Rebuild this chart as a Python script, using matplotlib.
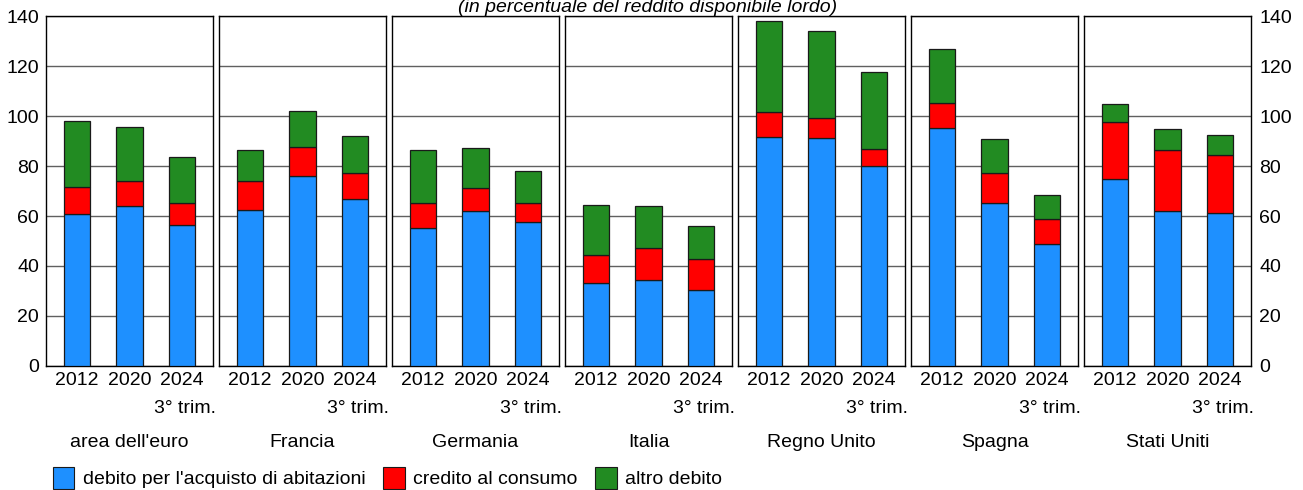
import matplotlib
matplotlib.use('Agg')
import matplotlib.pyplot as plt
from matplotlib.patches import Patch
import matplotlib.transforms as mtransforms

plt.rcParams['font.family'] = ['Liberation Sans', 'DejaVu Sans']

paesi = ["area dell'euro", 'Francia', 'Germania', 'Italia', 'Regno Unito', 'Spagna', 'Stati Uniti']
anni = ['2012', '2020', '2024']
abitazioni = [
    [60.9, 63.9, 56.4],
    [62.5, 76.1, 66.8],
    [55.2, 62.0, 57.5],
    [33.3, 34.3, 30.4],
    [91.6, 91.3, 79.9],
    [95.1, 65.2, 48.7],
    [74.7, 62.1, 61.1],
]
consumo = [
    [10.6, 10.0, 8.7],
    [11.4, 11.5, 10.3],
    [10.0, 9.1, 7.6],
    [11.0, 12.8, 12.5],
    [9.9, 7.8, 6.8],
    [10.1, 11.9, 10.0],
    [22.9, 24.2, 23.3],
]
altro = [
    [26.5, 21.8, 18.5],
    [12.4, 14.5, 15.0],
    [21.1, 16.0, 12.8],
    [20.0, 16.9, 13.0],
    [36.4, 35.0, 30.8],
    [21.5, 13.7, 9.8],
    [7.1, 8.6, 8.1],
]
legenda = ["debito per l'acquisto di abitazioni", 'credito al consumo', 'altro debito']
colori = ['#1E90FF', '#FF0000', '#228B22']

W, H = 1303, 490
fig = plt.figure(figsize=(W / 100, H / 100), dpi=100)

x0, pw, gap = 46, 167, 6
ytop, ybot = 16, 366
fs = 14

for i, paese in enumerate(paesi):
    left = x0 + i * (pw + gap)
    ax = fig.add_axes([left / W, 1 - ybot / H, pw / W, (ybot - ytop) / H])
    xs = range(len(anni))
    b = abitazioni[i]
    c = consumo[i]
    a = altro[i]
    bc = [b[k] + c[k] for k in xs]
    ax.bar(xs, b, width=0.5, color=colori[0], edgecolor='#1a1a1a', linewidth=0.9, zorder=3)
    ax.bar(xs, c, width=0.5, bottom=b, color=colori[1], edgecolor='#1a1a1a', linewidth=0.9, zorder=3)
    ax.bar(xs, a, width=0.5, bottom=bc, color=colori[2], edgecolor='#1a1a1a', linewidth=0.9, zorder=3)
    ax.set_xlim(-0.59, 2.59)
    ax.set_ylim(0, 140)
    ax.set_yticks(range(0, 141, 20))
    ax.yaxis.grid(True, color='#606060', linewidth=1.0, zorder=0)
    ax.set_xticks(list(xs))
    ax.set_xticklabels(anni, fontsize=fs)
    ax.tick_params(axis='both', length=0, pad=4, labelsize=fs)
    for s in ax.spines.values():
        s.set_color('black')
        s.set_linewidth(1.0)
    if i == 0:
        ax.tick_params(axis='y', labelleft=True, labelright=False, pad=5)
    elif i == len(paesi) - 1:
        ax.tick_params(axis='y', labelleft=False, labelright=True, pad=6)
    else:
        ax.tick_params(axis='y', labelleft=False)
    trans = mtransforms.blended_transform_factory(ax.transData, fig.transFigure)
    ax.text(2.06, 1 - 408 / H, '3° trim.', transform=trans, ha='center', va='center', fontsize=fs)
    ax.text(0.5, 1 - 442 / H, paese, transform=mtransforms.blended_transform_factory(ax.transAxes, fig.transFigure),
            ha='center', va='center', fontsize=fs)

fig.text(648 / W, 1 - 12 / H, '(in percentuale del reddito disponibile lordo)', ha='center', va='baseline',
         fontsize=fs, style='italic')

handles = [Patch(facecolor=colori[k], edgecolor='#1a1a1a', linewidth=0.8) for k in range(3)]
fig.legend(handles, legenda, loc='center left', bbox_to_anchor=(45 / W, 1 - 478 / H), ncol=3, frameon=False,
           fontsize=fs, handlelength=1.1, handleheight=1.4, handletextpad=0.45, columnspacing=0.9, borderaxespad=0)

fig.savefig('out.png', dpi=100)
